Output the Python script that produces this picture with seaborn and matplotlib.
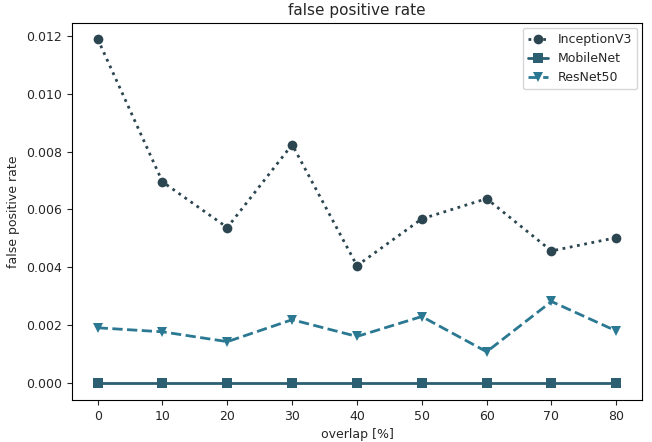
import matplotlib
matplotlib.use("Agg")
import matplotlib.pyplot as plt
import seaborn as sns
import pandas as pd

# valores
overlap = [0, 10, 20, 30, 40, 50, 60, 70, 80]
inception_v3 = [0.0119, 0.00695, 0.00537, 0.00824, 0.00405, 0.00567, 0.00637, 0.00456, 0.00502]
mobilenet = [0.0, 0.0, 0.0, 0.0, 0.0, 0.0, 0.0, 0.0, 0.0]
resnet50 = [0.0019, 0.00176, 0.00142, 0.00218, 0.00160, 0.00229, 0.00107, 0.00281, 0.00179]

modelos = ["InceptionV3", "MobileNet", "ResNet50"]
cores = {"InceptionV3": "#2b4650", "MobileNet": "#2c5f72", "ResNet50": "#2a7891"}
estilos = {"InceptionV3": ":", "MobileNet": "-", "ResNet50": "--"}
marcadores = {"InceptionV3": "o", "MobileNet": "s", "ResNet50": "v"}

df = pd.DataFrame({
    "overlap": overlap * 3,
    "fpr": inception_v3 + mobilenet + resnet50,
    "modelo": [m for m in modelos for _ in overlap],
})

sns.set_style("ticks")
plt.rcParams["font.family"] = ["DejaVu Sans"]

fig, ax = plt.subplots(figsize=(6.52, 4.42), dpi=100)
for m in modelos:
    d = df[df["modelo"] == m]
    sns.lineplot(data=d, x="overlap", y="fpr", ax=ax, color=cores[m],
                 linestyle=estilos[m], marker=marcadores[m], markersize=7,
                 markeredgewidth=0, linewidth=2, label=m)

ax.set_xticks(overlap)
ax.set_yticks([0.0, 0.002, 0.004, 0.006, 0.008, 0.010, 0.012])
ax.set_ylim(-0.0006, 0.01245)
ax.set_xlim(-4, 84)
ax.set_title("false positive rate", fontsize=11)
ax.set_xlabel("overlap [%]", fontsize=9)
ax.set_ylabel("false positive rate", fontsize=9)
ax.tick_params(labelsize=9)
for s in ax.spines.values():
    s.set_visible(True)
    s.set_color("black")
ax.legend(loc="upper right", fontsize=9, handlelength=1.6, borderaxespad=0.4)

fig.subplots_adjust(left=0.11, right=0.985, top=0.948, bottom=0.095)
fig.savefig("out.png", dpi=100)
